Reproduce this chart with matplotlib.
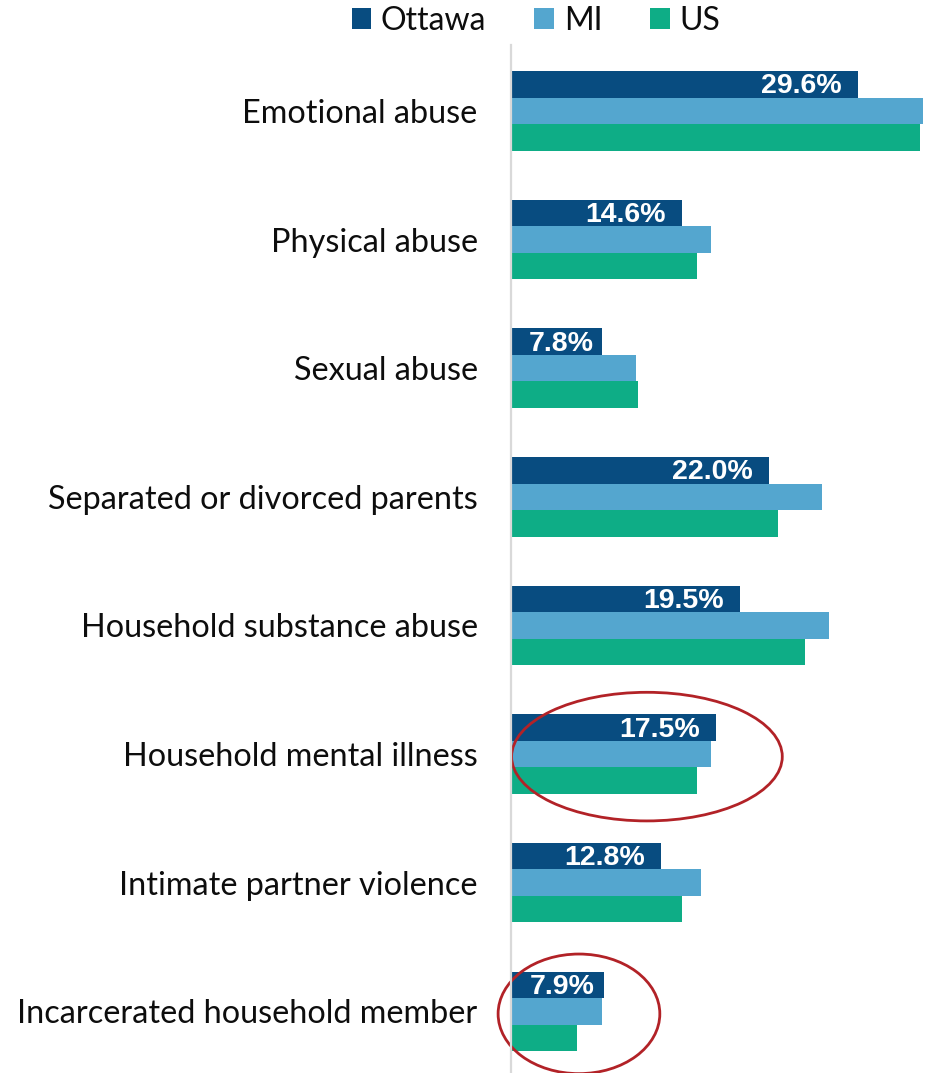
import matplotlib
matplotlib.use("Agg")
import matplotlib.pyplot as plt
from matplotlib.patches import Ellipse, Patch
import numpy as np

categories = [
    "Emotional abuse",
    "Physical abuse",
    "Sexual abuse",
    "Separated or divorced parents",
    "Household substance abuse",
    "Household mental illness",
    "Intimate partner violence",
    "Incarcerated household member",
]
series_names = ["Ottawa", "MI", "US"]
ottawa = [29.6, 14.6, 7.8, 22.0, 19.5, 17.5, 12.8, 7.9]
mi = [35.2, 17.1, 10.7, 26.5, 27.1, 17.1, 16.2, 7.8]
us = [34.9, 15.9, 10.8, 22.8, 25.1, 15.9, 14.6, 5.6]

colors = ["#084C80", "#54A6CF", "#0EAD86"]
ring_color = "#B22227"

W, H, DPI = 928, 1073, 100
fig = plt.figure(figsize=(W / DPI, H / DPI), dpi=DPI)
plt.rcParams["font.family"] = ["Lato", "DejaVu Sans"]

ax_left, ax_right = 511, 927
ax_top, ax_bottom = 45, 1073
ax = fig.add_axes([ax_left / W, 1 - ax_bottom / H,
                   (ax_right - ax_left) / W, (ax_bottom - ax_top) / H])

y = np.arange(len(categories))
bh = 0.206
for k, (vals, col) in enumerate(zip([ottawa, mi, us], colors)):
    ax.barh(y + (k - 1) * bh, vals, height=bh, color=col, edgecolor="none")

# value labels inside the Ottawa bars
for yi, v in zip(y, ottawa):
    off = 16 if v > 10 else 9
    ax.annotate(f"{v:.1f}%", xy=(v, yi - bh), xytext=(-off, -2),
                textcoords="offset pixels", ha="right", va="center",
                color="white", fontsize=20.5, fontweight="bold",
                family=["Liberation Sans", "DejaVu Sans"])

ax.set_xlim(0, 35.5)
ax.set_ylim(7.48, -0.513)
ax.set_yticks(y)
ax.set_yticklabels(categories, fontsize=23.3, color="#0d0d0d")
ax.tick_params(axis="y", length=0, pad=24)
ax.set_xticks([])
for s in ["top", "right", "bottom"]:
    ax.spines[s].set_visible(False)
ax.spines["left"].set_color("#D9D9D9")
ax.spines["left"].set_linewidth(1.6)

# highlight rings
for idx, xc, wd, ht in [(5, 11.6, 23.1, 1.0), (7, 5.8, 13.8, 0.93)]:
    ax.add_patch(Ellipse((xc, idx + 0.02), wd, ht, fill=False,
                         edgecolor=ring_color, linewidth=2.0, clip_on=False))

handles = [Patch(facecolor=c, edgecolor="none", label=n)
           for c, n in zip(colors, series_names)]
fig.legend(handles=handles, loc="center", bbox_to_anchor=(536 / W, 1 - 21 / H),
           ncol=3, frameon=False, fontsize=23, handlelength=0.62,
           handleheight=0.62, handletextpad=0.3, columnspacing=1.5,
           borderpad=0, borderaxespad=0)
for t in fig.legends[0].get_texts():
    t.set_color("#0d0d0d")

fig.savefig("out.png", dpi=DPI)
